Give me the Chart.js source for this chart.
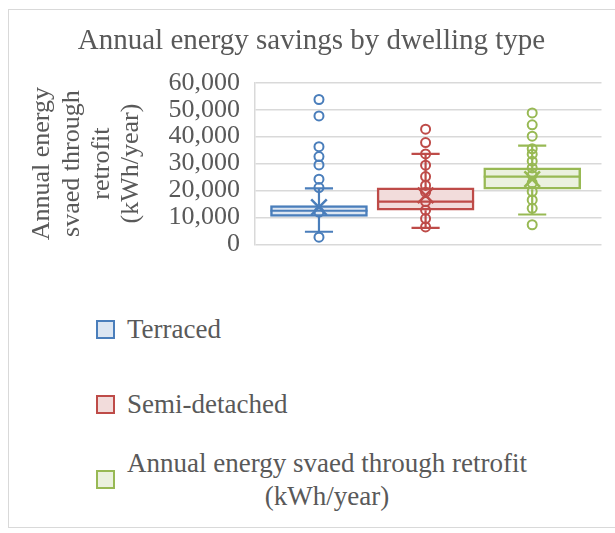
<!DOCTYPE html>
<html>
<head>
<meta charset="utf-8">
<script src="https://cdn.jsdelivr.net/npm/chart.js@4.4.1/dist/chart.umd.min.js"></script>
<style>
  html, body { margin: 0; padding: 0; background: #fff; overflow: hidden; }
  #frame { position: relative; width: 615px; height: 533px; }
  #border { position: absolute; left: 8px; top: 9px; width: 620px; height: 519px; border: 1px solid #d9d9d9; box-sizing: border-box; }
  #chartBox { position: absolute; left: 0; top: 0; width: 615px; height: 275px; }
  #legend { position: absolute; left: 96px; top: 292px; font-family: 'Liberation Serif', 'Times New Roman', serif; font-size: 27px; color: #595959; }
  .legend-item { display: flex; align-items: center; height: 75px; }
  .legend-box { width: 15px; height: 15px; border: 2px solid; margin-right: 12px; flex: none; }
  .legend-text { display: inline-block; text-align: center; line-height: 33px; white-space: nowrap; }
</style>
</head>
<body>
<div id="frame">
  <div id="border"></div>
  <div id="chartBox"><canvas id="chart"></canvas></div>
  <div id="legend"></div>
</div>
<script>
const seriesNames = ['Terraced', 'Semi-detached', 'Annual energy svaed through retrofit (kWh/year)'];
const positions = [1, 2, 3];

// box statistics (kWh/year)
const q1 = [10400, 12700, 20500];
const median = [12500, 15900, 25200];
const q3 = [14400, 21000, 28400];
const whiskerLow = [4700, 6100, 11100];
const whiskerHigh = [20800, 33600, 36700];
const means = [13800, 18200, 24200];

// individual points shown on each box
const terracedPoints = [53800, 47700, 36300, 32600, 29500, 24200, 21100, 12000, 2700];
const semiPoints = [42800, 37800, 33600, 29400, 25200, 21900, 19400, 15900, 12700, 9600, 6500];
const retrofitPoints = [48800, 44400, 40200, 35500, 33500, 30900, 28400, 25700, 22800, 19600, 16500, 13400, 7300];

const yTickValues = [0, 10000, 20000, 30000, 40000, 50000, 60000];
const yTickLabels = ['0', '10,000', '20,000', '30,000', '40,000', '50,000', '60,000'];

const lineColors = ['#4a7ebb', '#be4b48', '#98b954'];
const fillColors = ['#dce6f2', '#f2dcdb', '#ebf1de'];
const textColor = '#595959';
const serif = "'Liberation Serif', 'Times New Roman', serif";

Chart.defaults.font.family = serif;
Chart.defaults.color = textColor;

const boxSets = seriesNames.map((name, i) => ({
    type: 'bar',
    label: name,
    data: [{ x: positions[i], y: [q1[i], q3[i]] }],
    backgroundColor: fillColors[i],
    borderColor: lineColors[i],
    borderWidth: 2.5,
    borderSkipped: false,
    grouped: false,
    barThickness: 97,
    order: 3
}));

const pointSets = [terracedPoints, semiPoints, retrofitPoints].map((list, i) => ({
    type: 'scatter',
    label: seriesNames[i] + ' points',
    data: list.map(v => ({ x: positions[i], y: v })),
    pointStyle: 'circle',
    pointRadius: 4.5,
    pointBorderWidth: 2,
    pointBorderColor: lineColors[i],
    pointBackgroundColor: 'rgba(255,255,255,0)',
    order: 2
}));

const meanSet = {
    type: 'scatter',
    label: 'Mean',
    data: means.map((m, i) => ({ x: positions[i], y: m })),
    pointStyle: 'crossRot',
    pointRadius: 11,
    pointBorderWidth: 2.5,
    pointBorderColor: lineColors,
    order: 1
};

// whiskers, caps and median line for each box
const whiskerPlugin = {
    id: 'whiskers',
    afterDatasetDraw(chart, args) {
        if (args.meta.type !== 'bar') return;
        const i = args.index;
        const bar = args.meta.data[0];
        const y = chart.scales.y;
        const ctx = chart.ctx;
        const capHalf = bar.width * 0.145;
        ctx.save();
        ctx.strokeStyle = lineColors[i];
        ctx.lineWidth = 2.2;
        ctx.beginPath();
        ctx.moveTo(bar.x, y.getPixelForValue(whiskerHigh[i]));
        ctx.lineTo(bar.x, y.getPixelForValue(q3[i]));
        ctx.moveTo(bar.x, y.getPixelForValue(q1[i]));
        ctx.lineTo(bar.x, y.getPixelForValue(whiskerLow[i]));
        [whiskerHigh[i], whiskerLow[i]].forEach(v => {
            const py = y.getPixelForValue(v);
            ctx.moveTo(bar.x - capHalf, py);
            ctx.lineTo(bar.x + capHalf, py);
        });
        const my = y.getPixelForValue(median[i]);
        ctx.moveTo(bar.x - bar.width / 2, my);
        ctx.lineTo(bar.x + bar.width / 2, my);
        ctx.stroke();
        ctx.restore();
    }
};

const chart = new Chart(document.getElementById('chart'), {
    type: 'bar',
    data: { datasets: [...boxSets, ...pointSets, meanSet] },
    options: {
        responsive: true,
        maintainAspectRatio: false,
        animation: false,
        layout: { padding: { left: 20, top: 10, right: 12, bottom: 19 } },
        scales: {
            x: {
                type: 'linear',
                min: 0.4,
                max: 3.65,
                offset: false,
                bounds: 'data',
                display: false,
                grid: { offset: false },
                afterBuildTicks: s => { s.ticks = positions.map(v => ({ value: v })); }
            },
            y: {
                min: 0,
                max: 60000,
                afterBuildTicks: s => { s.ticks = yTickValues.map(v => ({ value: v })); },
                afterFit: s => { s.width = 235; },
                ticks: {
                    font: { size: 26 },
                    color: textColor,
                    padding: 15,
                    autoSkip: false,
                    callback: (v, idx) => yTickLabels[idx]
                },
                grid: { color: '#d9d9d9', lineWidth: 1.5, drawTicks: false },
                border: { display: true, color: '#d9d9d9', width: 1.5 },
                title: {
                    display: true,
                    text: ['Annual energy', 'svaed through', 'retrofit', '(kWh/year)'],
                    font: { size: 26, lineHeight: 1.15 },
                    color: textColor,
                    padding: { top: 7, bottom: 0 }
                }
            }
        },
        plugins: {
            legend: { display: false },
            tooltip: { enabled: false },
            title: {
                display: true,
                text: 'Annual energy savings by dwelling type',
                font: { size: 29, weight: 'normal', lineHeight: 1.2 },
                color: textColor,
                padding: { top: 14, bottom: 24 }
            }
        }
    },
    plugins: [whiskerPlugin]
});

function buildLegend(chart) {
    const legend = document.getElementById('legend');
    chart.data.datasets.forEach(ds => {
        if (ds.type !== 'bar') return;
        const item = document.createElement('div');
        item.className = 'legend-item';
        const box = document.createElement('span');
        box.className = 'legend-box';
        box.style.borderColor = ds.borderColor;
        box.style.background = ds.backgroundColor;
        const text = document.createElement('span');
        text.className = 'legend-text';
        // the unit in brackets goes on its own line, as in the original
        const cut = ds.label.indexOf(' (');
        if (cut > 0) {
            text.appendChild(document.createTextNode(ds.label.slice(0, cut)));
            text.appendChild(document.createElement('br'));
            text.appendChild(document.createTextNode(ds.label.slice(cut + 1)));
        } else {
            text.textContent = ds.label;
        }
        item.appendChild(box);
        item.appendChild(text);
        legend.appendChild(item);
    });
}

buildLegend(chart);
</script>
</body>
</html>
